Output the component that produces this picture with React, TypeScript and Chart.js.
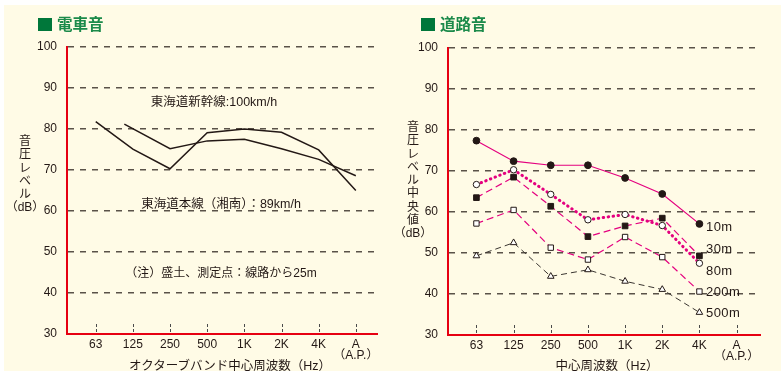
import React, { useEffect, useRef } from 'react';
import { Chart, registerables } from 'chart.js';

Chart.register(...registerables);

// ---- data ----
const bandLabels: (string | string[])[] = ['63', '125', '250', '500', '1K', '2K', '4K', ['A', '（A.P.）']];
const yTicks = [30, 40, 50, 60, 70, 80, 90, 100];

// 電車音 (two train lines)
const trainAX = [0, 1, 2, 3, 4, 5, 6, 7];
const trainA = [81.8, 75.1, 70.3, 79.1, 80.0, 79.2, 74.9, 65.0];
const trainBX = [0.77, 2, 3, 4, 5, 6, 7];
const trainB = [81.2, 75.2, 77.1, 77.5, 75.2, 72.6, 68.6];

// 道路音 (distance from road)
const roadX = [0, 1, 2, 3, 4, 5, 6];
const road10m = [77.4, 72.4, 71.4, 71.4, 68.3, 64.4, 57.1];
const road30m = [63.5, 68.5, 61.4, 54.0, 56.6, 58.5, 49.3];
const road80m = [66.7, 70.3, 64.3, 58.1, 59.4, 56.7, 47.5];
const road200m = [57.2, 60.5, 51.3, 48.4, 53.9, 49.0, 40.6];
const road500m = [49.3, 52.5, 44.3, 45.9, 43.1, 41.1, 35.5];
const roadNames = ['10m', '30m', '80m', '200m', '500m'];

const CREAM = '#fffbe6';
const PINK = '#e4007f';
const INK = '#231815';
const RED = '#e60012';
const GRID = '#5a5248';
const LATIN = "'Liberation Sans', 'Noto Sans CJK JP', sans-serif";

const pts = (xs: number[], ys: number[]) => xs.map((x, i) => ({ x, y: ys[i] }));

const tickMarks = {
  id: 'tickMarks',
  beforeDatasetsDraw(chart: any) {
    const { ctx, chartArea, scales } = chart;
    const xs = scales.x;
    ctx.save();
    ctx.strokeStyle = '#4a4a4a';
    ctx.lineWidth = 1;
    ctx.setLineDash([3, 2]);
    xs.ticks.forEach((_t: any, i: number) => {
      const px = Math.round(xs.getPixelForTick(i)) + 0.5;
      ctx.beginPath();
      ctx.moveTo(px, chartArea.bottom - 10);
      ctx.lineTo(px, chartArea.bottom);
      ctx.stroke();
    });
    ctx.restore();
  },
};

function makeOptions(xMin: number, xMax: number, yWidth: number, xHeight: number, padding: any) {
  return {
    responsive: false,
    animation: false,
    layout: { padding },
    plugins: { legend: { display: false }, tooltip: { enabled: false } },
    scales: {
      x: {
        type: 'linear',
        min: xMin,
        max: xMax,
        afterBuildTicks: (s: any) => {
          s.ticks = bandLabels.map((_, i) => ({ value: i }));
        },
        afterFit: (s: any) => {
          s.height = xHeight;
        },
        grid: { display: false, drawTicks: false },
        border: { display: true, color: RED, width: 2 },
        ticks: {
          padding: 5,
          color: INK,
          font: { family: LATIN, size: 12, lineHeight: 0.95 },
          maxRotation: 0,
          autoSkip: false,
          callback: (v: number) => bandLabels[v],
        },
      },
      y: {
        min: 30,
        max: 100,
        afterBuildTicks: (s: any) => {
          s.ticks = yTicks.map((v) => ({ value: v }));
        },
        afterFit: (s: any) => {
          s.width = yWidth;
        },
        grid: {
          drawTicks: false,
          lineWidth: 1.5,
          color: (c: any) => (c.tick && c.tick.value === 30 ? 'rgba(0,0,0,0)' : GRID),
        },
        border: { display: true, color: RED, width: 2, dash: [6, 6] },
        ticks: {
          padding: 10,
          color: INK,
          font: { family: LATIN, size: 12 },
        },
      },
    },
  } as any;
}

const T = ({ x, y, children, size = 12.5, style = {} as any }: any) => (
  <div
    style={{
      position: 'absolute',
      left: x,
      top: y,
      transform: 'translate(-50%,-50%)',
      whiteSpace: 'nowrap',
      fontFamily: LATIN,
      fontSize: size,
      lineHeight: 1,
      color: INK,
      ...style,
    }}
  >
    {children}
  </div>
);

const VTitle = ({ x, top, chars }: any) => (
  <div
    style={{
      position: 'absolute',
      left: x,
      top,
      transform: 'translateX(-50%)',
      fontFamily: LATIN,
      fontSize: 12,
      lineHeight: '13.3px',
      color: INK,
      textAlign: 'center',
      whiteSpace: 'nowrap',
    }}
  >
    {chars.map((c: string, i: number) => (
      <div key={i}>{c}</div>
    ))}
  </div>
);

const Title = ({ x, text }: any) => (
  <>
    <div style={{ position: 'absolute', left: x, top: 18, width: 14, height: 13, background: '#00773a' }} />
    <div
      style={{
        position: 'absolute',
        left: x + 19,
        top: 24,
        transform: 'translateY(-50%)',
        fontFamily: "'Noto Sans CJK JP', sans-serif",
        fontWeight: 'bold',
        fontSize: 15.5,
        lineHeight: 1,
        color: '#1b8a4a',
        whiteSpace: 'nowrap',
      }}
    >
      {text}
    </div>
  </>
);

export default function App() {
  const leftRef = useRef<HTMLCanvasElement>(null);
  const rightRef = useRef<HTMLCanvasElement>(null);

  useEffect(() => {
    const left = new Chart(leftRef.current!, {
      type: 'line',
      data: {
        datasets: [
          {
            label: '線路A',
            data: pts(trainAX, trainA),
            borderColor: INK,
            borderWidth: 1.5,
            pointRadius: 0,
            tension: 0,
          },
          {
            label: '線路B',
            data: pts(trainBX, trainB),
            borderColor: INK,
            borderWidth: 1.5,
            pointRadius: 0,
            tension: 0,
          },
        ],
      },
      options: makeOptions(-0.773, 7.57, 67, 37, { top: 47, right: 13, bottom: 0, left: 0 }),
      plugins: [tickMarks],
    });

    const mk = (label: string, ys: number[], color: string, dash: number[], style: string, radius: number, fill: string, width = 1.2, cap = 'butt') => ({
      label,
      data: pts(roadX, ys),
      borderColor: color,
      borderWidth: width,
      borderDash: dash,
      borderCapStyle: cap,
      pointStyle: style,
      pointRadius: radius,
      pointBackgroundColor: fill,
      pointBorderColor: INK,
      pointBorderWidth: 1,
      tension: 0,
    });

    const right = new Chart(rightRef.current!, {
      type: 'line',
      data: {
        datasets: [
          mk(roadNames[4], road500m, '#3a3530', [6, 4], 'triangle', 3.8, '#ffffff', 1),
          mk(roadNames[3], road200m, PINK, [7, 4], 'rect', 3.8, '#ffffff'),
          mk(roadNames[1], road30m, PINK, [7, 4], 'rect', 4, INK),
          mk(roadNames[2], road80m, PINK, [0.5, 4.5], 'circle', 3.2, '#ffffff', 3, 'round'),
          mk(roadNames[0], road10m, PINK, [], 'circle', 3.4, INK),
        ],
      },
      options: makeOptions(-0.765, 7.63, 58, 36, { top: 48, right: 21, bottom: 0, left: 0 }),
      plugins: [tickMarks],
    });

    return () => {
      left.destroy();
      right.destroy();
    };
  }, []);

  return (
    <div style={{ position: 'fixed', left: 0, top: 0, width: 781, height: 371, background: '#ffffff', overflow: 'hidden' }}>
      <div style={{ position: 'absolute', left: 4, top: 5, right: 0, bottom: 0, background: CREAM }} />
      <canvas ref={leftRef} width={390} height={371} style={{ position: 'absolute', left: 0, top: 0, width: 390, height: 371 }} />
      <canvas ref={rightRef} width={391} height={371} style={{ position: 'absolute', left: 390, top: 0, width: 391, height: 371 }} />

      <Title x={38} text="電車音" />
      <Title x={421} text="道路音" />

      <T x={214} y={102}>東海道新幹線:100km/h</T>
      <T x={221} y={204}>東海道本線（湘南）：89km/h</T>
      <T x={221} y={273} size={12}>（注）盛土、測定点：線路から25m</T>

      <VTitle x={25} top={135} chars={['音', '圧', 'レ', 'ベ', 'ル', '（dB）']} />
      <VTitle x={413} top={121} chars={['音', '圧', 'レ', 'ベ', 'ル', '中', '央', '値', '（dB）']} />

      <T x={230} y={366}>オクターブバンド中心周波数（Hz）</T>
      <T x={607} y={366}>中心周波数（Hz）</T>

      {roadNames.map((n, i) => (
        <T key={n} x={706} y={[226, 248, 270, 291, 312][i]} size={13} style={{ transform: 'translateY(-50%)', letterSpacing: 0.4 }}>
          {n}
        </T>
      ))}
    </div>
  );
}
